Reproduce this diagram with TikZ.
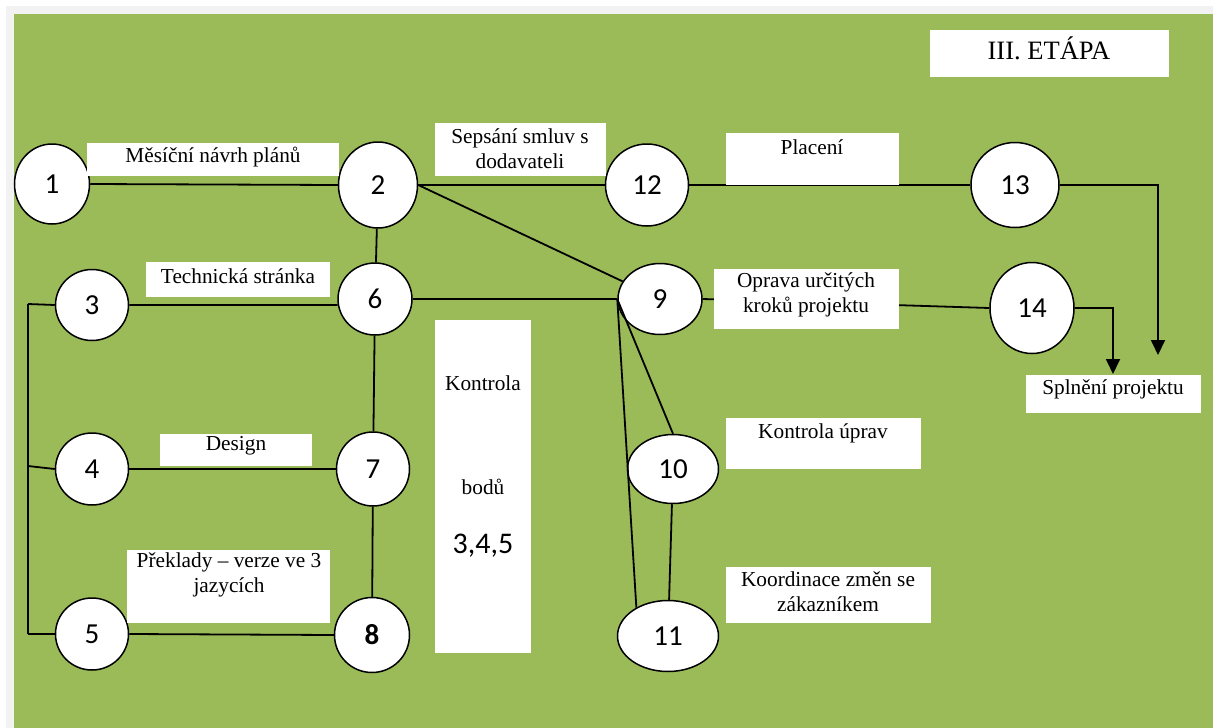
\documentclass[tikz,border=0pt]{standalone}
\usepackage{fontspec}
\setmainfont{Liberation Serif}
\newfontfamily\serifont{Liberation Serif}
\newfontfamily\numfont{Carlito}
\usetikzlibrary{shapes.geometric,arrows.meta}
\definecolor{olive}{HTML}{9BBB59}
\definecolor{framegray}{HTML}{F2F2F2}

\begin{document}
\begin{tikzpicture}[x=1pt,y=-1pt,
  ev/.style={ellipse,draw=black,line width=1.5pt,fill=white,inner sep=0pt,
    font=\numfont\fontsize{29}{32}\selectfont},
  box/.style={fill=white,draw=none,inner sep=0pt,anchor=north west},
  lbl/.style={font=\serifont\fontsize{21.3}{24.8}\selectfont,align=center,inner sep=0pt},
  link/.style={line width=1.8pt,draw=black},
  flow/.style={link,-{Triangle[width=14pt,length=15pt]}}]

% page, frame and green field
\fill[white] (0,0) rectangle (1213,728);
\useasboundingbox (0,0) rectangle (1213,728);
\fill[framegray] (6,6) rectangle (1213,728);
\fill[olive] (14,14) rectangle (1213,728);

% events
\node[ev,minimum width=75,minimum height=80] (n1) at (52,184) {1};
\node[ev,minimum width=79,minimum height=86] (n2) at (378,185) {2};
\node[ev,minimum width=73,minimum height=71] (n3) at (92,305) {3};
\node[ev,minimum width=73,minimum height=72] (n4) at (92,469) {4};
\node[ev,minimum width=73,minimum height=72] (n5) at (92,634) {5};
\node[ev,minimum width=74,minimum height=72] (n6) at (375,299) {6};
\node[ev,minimum width=73,minimum height=74] (n7) at (373,469) {7};
\node[ev,minimum width=75,minimum height=75] (n8) at (372,635) {\bfseries 8};
\node[ev,minimum width=84,minimum height=71] (n9) at (660,299) {9};
\node[ev,minimum width=91,minimum height=69] (n10) at (673,469) {10};
\node[ev,minimum width=101,minimum height=71] (n11) at (668,636) {11};
\node[ev,minimum width=83,minimum height=82] (n12) at (647,185) {12};
\node[ev,minimum width=88,minimum height=85] (n13) at (1015,185) {13};
\node[ev,minimum width=84,minimum height=91] (n14) at (1032,308) {14};

% bracket joining 3, 4 and 5
\coordinate (br3) at (28,304);
\coordinate (br4) at (28,466);
\coordinate (br5) at (28,634);
\coordinate (end13) at (1158,355);
\coordinate (end14) at (1113,374);

% activities
\draw[link] (n1.east) -- (n2.west);
\draw[link] (n2.east) -- (n12.west);
\draw[link] (n2.east) -- (n9);
\draw[link] (n2) -- (n6);
\draw[link] (n12.east) -- (n13.west);
\draw[link] (n3.east) -- (n6.189);
\draw[link] (n6.east) -- (n9.west);
\draw[link] (n6) -- (n7);
\draw[link] (n7) -- (n8);
\draw[link] (n4.east) -- (n7.west);
\draw[link] (n5.east) -- (n8.west);
\draw[link] (n9.west) -- (n10.north);
\draw[link] (n9.west) -- (n11.138);
\draw[link] (n10) -- (n11);
\draw[link] (n9.east) -- (n14.west);
\draw[link] (br3) -- (br5);
\draw[link] (br3) -- (n3.west);
\draw[link] (br4) -- (n4.west);
\draw[link] (br5) -- (n5.west);
\draw[flow] (n13.east) -| (end13);
\draw[flow] (n14.east) -| (end14);

% label boxes
\node[box,minimum width=252,minimum height=33] (bMes) at (87,143) {};
\node[box,minimum width=171,minimum height=53] (bSep) at (435,123) {};
\node[box,minimum width=173,minimum height=52] (bPla) at (726,133) {};
\node[box,minimum width=184,minimum height=35] (bTec) at (146,262) {};
\node[box,minimum width=152,minimum height=32] (bDes) at (160,434) {};
\node[box,minimum width=203,minimum height=73] (bPre) at (127,550) {};
\node[box,minimum width=96,minimum height=333] (bKon) at (435,320) {};
\node[box,minimum width=185,minimum height=60] (bOpr) at (714,269) {};
\node[box,minimum width=195,minimum height=51] (bKup) at (726,418) {};
\node[box,minimum width=205,minimum height=56] (bKoo) at (726,567) {};
\node[box,minimum width=239,minimum height=47] (bEta) at (930,30) {};
\node[box,minimum width=175,minimum height=38] (bSpl) at (1026,375) {};

% label texts
\node[lbl] (tMes) at (213,157) {Měsíční návrh plánů};
\node[lbl] (tSep) at (520,149) {Sepsání smluv s\\dodavateli};
\node[lbl] (tPla) at (812,147) {Placení};
\node[lbl] (tTec) at (238,276) {Technická stránka};
\node[lbl] (tDes) at (236,446) {Design};
\node[lbl] (tPre) at (229,575) {Překlady – verze ve 3\\jazycích};
\node[lbl] (tKon) at (483,383) {Kontrola};
\node[lbl] (tBod) at (483,487) {bodů};
\node[lbl,font=\numfont\fontsize{30}{34}\selectfont] (tCis) at (483,546) {3,4,5};
\node[lbl] (tOpr) at (806,295) {Oprava určitých\\kroků projektu};
\node[lbl] (tKup) at (823,433) {Kontrola úprav};
\node[lbl] (tKoo) at (828,592) {Koordinace změn se\\zákazníkem};
\node[lbl,font=\serifont\fontsize{26.5}{30}\selectfont] (tEta) at (1049,48) {III. ETÁPA};
\node[lbl] (tSpl) at (1113,389) {Splnění projektu};
\end{tikzpicture}
\end{document}
